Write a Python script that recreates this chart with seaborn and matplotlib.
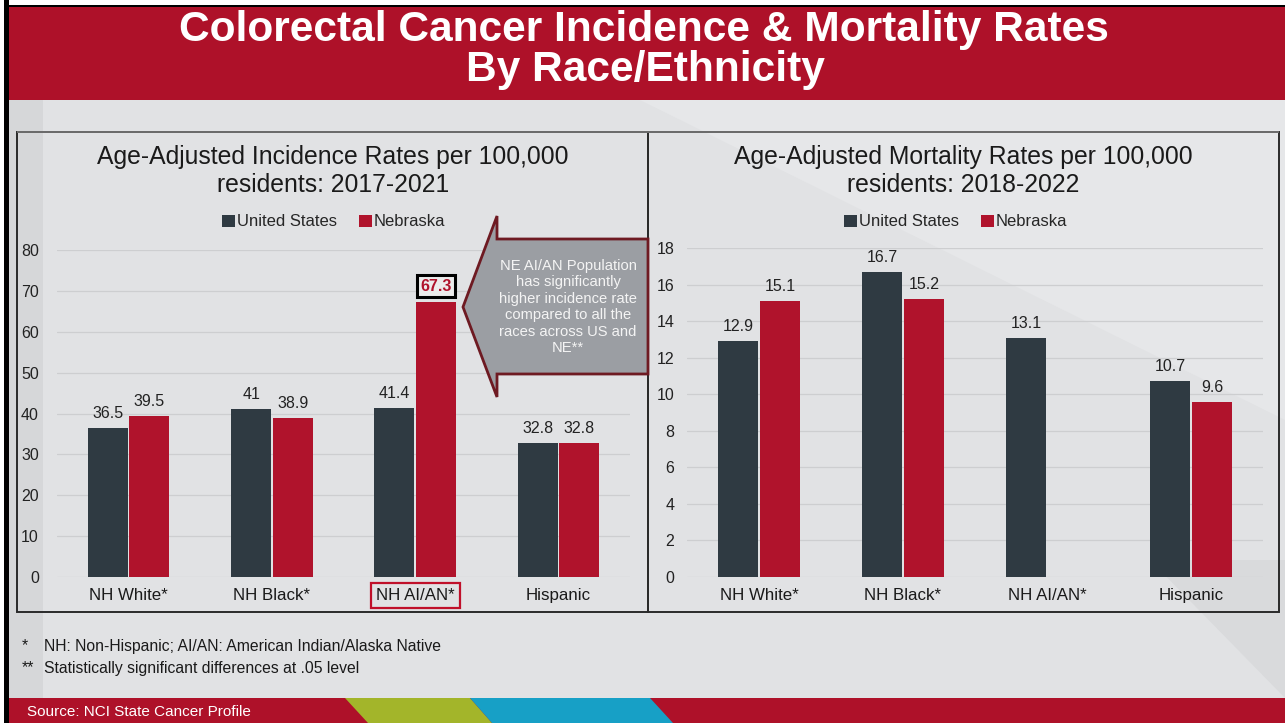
import numpy as np
import pandas as pd
import matplotlib
matplotlib.use("Agg")
import matplotlib.pyplot as plt
import seaborn as sns
from matplotlib.patches import Rectangle, Polygon

# ---------------- data ----------------
categories = ["NH White*", "NH Black*", "NH AI/AN*", "Hispanic"]
series = ["United States", "Nebraska"]
incidence_us = [36.5, 41.0, 41.4, 32.8]
incidence_ne = [39.5, 38.9, 67.3, 32.8]
mortality_us = [12.9, 16.7, 13.1, 10.7]
mortality_ne = [15.1, 15.2, np.nan, 9.6]
incidence_ticks = [0, 10, 20, 30, 40, 50, 60, 70, 80]
mortality_ticks = [0, 2, 4, 6, 8, 10, 12, 14, 16, 18]

title_lines = ["Colorectal Cancer Incidence & Mortality Rates", "By Race/Ethnicity"]
sub_left = "Age-Adjusted Incidence Rates per 100,000\nresidents: 2017-2021"
sub_right = "Age-Adjusted Mortality Rates per 100,000\nresidents: 2018-2022"
callout = ("NE AI/AN Population\nhas significantly\nhigher incidence rate\n"
           "compared to all the\nraces across US and\nNE**")
notes = [("*", "NH: Non-Hispanic; AI/AN: American Indian/Alaska Native"),
         ("**", "Statistically significant differences at .05 level")]
source = "Source: NCI State Cancer Profile"

US_C = "#2F3A42"
NE_C = "#B0132C"
RED = "#AE1129"
BG = "#E1E2E4"

sns.set_theme(style="white")
plt.rcParams["font.family"] = ["Liberation Sans", "DejaVu Sans"]

W, H = 1285, 723
fig = plt.figure(figsize=(12.85, 7.23), dpi=100)
fig.patch.set_facecolor("white")


def fx(x):
    return x / W


def fy(y):
    return 1 - y / H


def rect(x0, y0, x1, y1, **kw):
    r = Rectangle((fx(x0), fy(y1)), fx(x1) - fx(x0), fy(y0) - fy(y1),
                  transform=fig.transFigure, **kw)
    fig.add_artist(r)
    return r


def poly(pts, **kw):
    p = Polygon([(fx(a), fy(b)) for a, b in pts], closed=True,
                transform=fig.transFigure, **kw)
    fig.add_artist(p)
    return p


# ---------------- background ----------------
rect(9, 100, 1285, 698, facecolor=BG, edgecolor="none", zorder=-10)
rect(9, 100, 43, 698, facecolor="#D6D7D9", edgecolor="none", zorder=-9)
poly([(640, 100), (1285, 100), (1285, 420)], facecolor="#E6E7E9", edgecolor="none", zorder=-9)
poly([(1150, 560), (1285, 560), (1285, 698)], facecolor="#D9DADC", edgecolor="none", zorder=-9)
rect(9, 6, 1285, 100, facecolor=RED, edgecolor="none", zorder=-8)
rect(9, 698, 1285, 723, facecolor=RED, edgecolor="none", zorder=-8)
poly([(345, 698), (470, 698), (492, 723), (368, 723)], facecolor="#A3B52A", edgecolor="none", zorder=-7)
poly([(470, 698), (650, 698), (673, 723), (492, 723)], facecolor="#17A0C6", edgecolor="none", zorder=-7)
rect(4, 0, 9, 723, facecolor="black", edgecolor="none", zorder=-6)
rect(4, 5, 1285, 7, facecolor="black", edgecolor="none", zorder=-6)

# panel frames
rect(17, 132, 648, 612, facecolor="none", edgecolor="#2A2A2A", lw=1.4, zorder=1)
rect(648, 132, 1279, 612, facecolor="none", edgecolor="#2A2A2A", lw=1.4, zorder=1)
rect(17, 131, 1279, 133, facecolor="#6B6B6B", edgecolor="none", zorder=1)

# ---------------- titles ----------------
fig.text(fx(644), fy(30), title_lines[0], ha="center", va="center", color="white",
         fontsize=30.6, fontweight="bold")
fig.text(fx(645), fy(70), title_lines[1], ha="center", va="center", color="white",
         fontsize=30.6, fontweight="bold")
fig.text(fx(333), fy(171), sub_left, ha="center", va="center", fontsize=17.8,
         linespacing=1.2, color="#1A1A1A")
fig.text(fx(963), fy(171), sub_right, ha="center", va="center", fontsize=17.8,
         linespacing=1.2, color="#1A1A1A")


# ---------------- charts ----------------
def make_df(us, ne):
    df = pd.DataFrame({
        "Race": categories * 2,
        "Region": [series[0]] * len(categories) + [series[1]] * len(categories),
        "Rate": list(us) + list(ne),
    })
    return df.dropna()


def draw(ax, df, ticks, legend_x, ypad):
    sns.barplot(data=df, x="Race", y="Rate", hue="Region", order=categories,
                hue_order=series, palette=[US_C, NE_C], width=0.58, gap=0.04,
                saturation=1, ax=ax, edgecolor="none")
    ax.set_facecolor("none")
    ax.set_ylim(ticks[0], ticks[-1])
    ax.set_yticks(ticks)
    ax.set_xlim(-0.5, len(categories) - 0.5)
    ax.set_xticks(range(len(categories)))
    ax.set_xticklabels(categories)
    ax.set_xlabel("")
    ax.set_ylabel("")
    for s in ax.spines.values():
        s.set_visible(False)
    ax.yaxis.grid(True, color="#CDCED0", lw=0.9)
    ax.set_axisbelow(True)
    ax.tick_params(axis="y", length=0, labelsize=11.5, labelcolor="#222222", pad=ypad)
    ax.tick_params(axis="x", length=0, labelsize=12.2, labelcolor="#1A1A1A", pad=8)
    labels = []
    for c in ax.containers:
        labels.append(ax.bar_label(c, fmt="{:g}", padding=5, fontsize=11.5, color="#222222"))
    sns.move_legend(ax, "center", bbox_to_anchor=(fx(legend_x), fy(222)),
                    bbox_transform=fig.transFigure, ncol=2, frameon=False, title=None,
                    fontsize=12, handlelength=0.75, handleheight=0.75,
                    handletextpad=0.15, columnspacing=1.3)
    return labels


ax1 = fig.add_axes([fx(57), fy(577), (630 - 57) / W, (577 - 250) / H])
ax2 = fig.add_axes([fx(687), fy(577), (1263 - 687) / W, (577 - 248) / H])

lab1 = draw(ax1, make_df(incidence_us, incidence_ne), incidence_ticks, 334, 13)
draw(ax2, make_df(mortality_us, mortality_ne), mortality_ticks, 956, 9)

# highlight Nebraska AI/AN incidence label
ne_vals = list(incidence_ne)
imax = int(np.nanargmax(ne_vals))
t = lab1[1][imax]
t.set_color(NE_C)
t.set_fontweight("bold")
t.set_bbox(dict(boxstyle="square,pad=0.2", facecolor="#ECECEC", edgecolor="black", lw=2.2))
t.xyann = (0, 6)

for lbl in ax1.get_xticklabels():
    if lbl.get_text() == categories[imax]:
        lbl.set_bbox(dict(boxstyle="square,pad=0.3", facecolor="none", edgecolor="#C0102A", lw=1.6))

# ---------------- callout arrow ----------------
poly([(463, 307), (497, 216), (497, 239), (648, 239), (648, 374), (497, 374), (497, 397)],
     facecolor="#9B9EA3", edgecolor="#6E1A22", lw=2, zorder=5)
fig.text(fx(568), fy(307), callout, ha="center", va="center", color="#F4F4F4",
         fontsize=10.6, linespacing=1.22, zorder=6)

# ---------------- footnotes ----------------
for i, (mark, txt) in enumerate(notes):
    y = fy(646 + 22 * i)
    fig.text(fx(22), y, mark, ha="left", va="center", fontsize=11.3, color="#1A1A1A")
    fig.text(fx(44), y, txt, ha="left", va="center", fontsize=11.3, color="#1A1A1A")

fig.text(fx(27), fy(712), source, ha="left", va="center", fontsize=11, color="white")

fig.savefig("out.png", dpi=100)
